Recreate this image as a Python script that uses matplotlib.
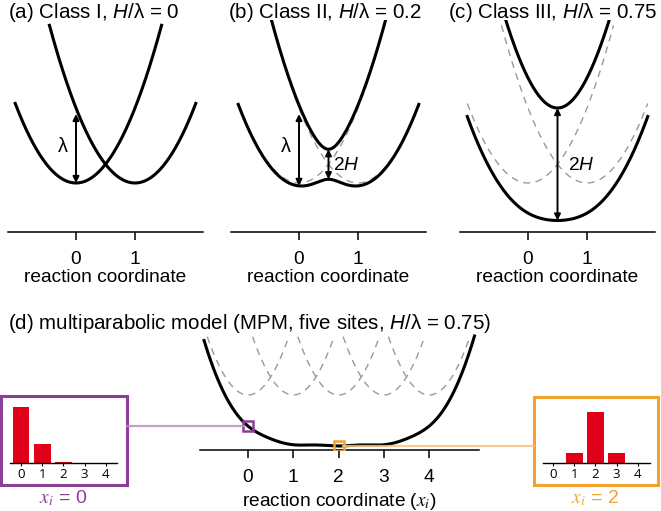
import numpy as np
import matplotlib
matplotlib.use("Agg")
import matplotlib.pyplot as plt
from matplotlib.lines import Line2D

plt.rcParams['font.family'] = ['Liberation Sans', 'DejaVu Sans']
plt.rcParams['mathtext.fontset'] = 'custom'
plt.rcParams['mathtext.rm'] = 'Liberation Sans'
plt.rcParams['mathtext.it'] = 'Liberation Sans:italic'

# ---------------- data ----------------
panel_titles = ["(a) Class I, $H$/λ = 0", "(b) Class II, $H$/λ = 0.2",
                "(c) Class III, $H$/λ = 0.75"]
h_over_lambda = [0.0, 0.2, 0.75]          # coupling per panel (λ = 1)
two_site_ticks = [0, 1]
mpm_title = "(d) multiparabolic model (MPM, five sites, $H$/λ = 0.75)"
mpm_h = 0.75
mpm_sites = [0, 1, 2, 3, 4]
bar_sites = [0, 1, 2, 3, 4]
bars_x0 = [0.74, 0.25, 0.015, 0.0, 0.0]   # state weights at x_i = 0
bars_x2 = [0.0, 0.13, 0.67, 0.13, 0.0]    # state weights at x_i = 2
marked_x = [0, 2]

W, H_PX = 661, 511
fig = plt.figure(figsize=(W / 100, H_PX / 100), dpi=100)


def rect(l, t, r, b):
    return [l / W, 1 - b / H_PX, (r - l) / W, (b - t) / H_PX]


PURPLE = '#8C3F96'
PURPLE_L = '#B98DC0'
ORANGE = '#F2A230'
ORANGE_L = '#F5C47E'
RED = '#E1001A'
GRAY = '#9A9A9A'
FS = 13.8
TFS = 14.8


def style_axis(ax, pad):
    for s in ['left', 'right', 'top']:
        ax.spines[s].set_visible(False)
    ax.spines['bottom'].set_linewidth(1.1)
    ax.set_yticks([])
    ax.tick_params(axis='x', direction='out', length=6, width=1.1,
                   labelsize=FS, pad=pad)


def darrow(ax, x, y0, y1):
    ax.annotate('', xy=(x, y1), xytext=(x, y0),
                arrowprops=dict(arrowstyle='<|-|>', color='black', lw=1.4,
                                mutation_scale=9, shrinkA=0, shrinkB=0))


# --------------- panels a-c ---------------
zeros = [76, 299, 528]
title_x = [8, 228, 448]
unit = 59.0
for k in range(3):
    h = h_over_lambda[k]
    x0 = zeros[k]
    ax = fig.add_axes(rect(x0 - 1.15 * unit, 20, x0 + 2.15 * unit, 232))
    ax.set_xlim(-1.15, 2.15)
    ax.set_ylim(-(232 - 183) / 75, (183 - 20) / 75)
    style_axis(ax, 8)
    ax.set_xticks(two_site_ticks)
    ax.set_xlabel("reaction coordinate", fontsize=FS, labelpad=0.5)
    fig.text(title_x[k] / W, 1 - 13 / H_PX, panel_titles[k], fontsize=TFS,
             ha='left', va='center')

    xa = np.linspace(-1.03, 1.45, 300)
    xb = np.linspace(-0.45, 2.03, 300)
    if h > 0:
        ax.plot(xa, xa ** 2, color=GRAY, lw=1.0, ls=(0, (5, 4)), zorder=1)
        ax.plot(xb, (xb - 1) ** 2, color=GRAY, lw=1.0, ls=(0, (5, 4)), zorder=1)
        xl = np.linspace(-1.03, 2.03, 500)
        ea, eb = xl ** 2, (xl - 1) ** 2
        lower = (ea + eb) / 2 - np.sqrt(((ea - eb) / 2) ** 2 + h ** 2)
        ax.plot(xl, lower, color='black', lw=2.2, zorder=3)
        xu = np.linspace(-0.47, 1.47, 400)
        ea, eb = xu ** 2, (xu - 1) ** 2
        upper = (ea + eb) / 2 + np.sqrt(((ea - eb) / 2) ** 2 + h ** 2)
        ax.plot(xu, upper, color='black', lw=2.2, zorder=3)
    else:
        ax.plot(xa, xa ** 2, color='black', lw=2.2, zorder=3)
        ax.plot(xb, (xb - 1) ** 2, color='black', lw=2.2, zorder=3)

    if k < 2:
        e0 = 0.5 - np.sqrt(0.25 + h ** 2)
        darrow(ax, 0, e0, 0.92)
        ax.text(-0.22, 0.48, "λ", fontsize=FS + 0.5, ha='center', va='center')
    if k >= 1:
        darrow(ax, 0.5, 0.25 - h, 0.25 + h)
        ax.text(0.58 if k == 1 else 0.68, 0.24, "2$H$", fontsize=FS,
                ha='left', va='center')

# --------------- panel d ---------------
du = 45.3
d0 = 248
axd = fig.add_axes(rect(d0 - 1.06 * du, 330, d0 + 5.10 * du, 450))
axd.set_xlim(-1.06, 5.10)
axd.set_ylim(-(450 - 395) / 72, (395 - 330) / 72)
style_axis(axd, 7.5)
axd.set_xticks(mpm_sites)
axd.set_xlabel(r"reaction coordinate ($\mathit{x}_\mathit{i}$)", fontsize=FS,
               labelpad=3.5)
axd.xaxis.label.set_math_fontfamily('stix')
fig.text(8 / W, 1 - 323 / H_PX, mpm_title, fontsize=TFS, ha='left',
         va='center')

for s in mpm_sites:
    xs = np.linspace(s - 0.9, s + 0.9, 200)
    axd.plot(xs, (xs - s) ** 2, color=GRAY, lw=1.0, ls=(0, (5, 4)), zorder=1)


def ground(x):
    n = len(mpm_sites)
    M = np.diag([(x - s) ** 2 for s in mpm_sites]).astype(float)
    for i in range(n - 1):
        M[i, i + 1] = M[i + 1, i] = -mpm_h
    return np.linalg.eigvalsh(M)[0]


xg = np.linspace(-0.97, 5.0, 600)
eg = np.array([ground(v) for v in xg])
axd.plot(xg, eg, color='black', lw=2.2, zorder=3)

cols = [PURPLE, ORANGE]
lcols = [PURPLE_L, ORANGE_L]
sq_pts = []
for i, xm in enumerate(marked_x):
    em = ground(xm)
    axd.plot([xm], [em], marker='s', ms=6.5, mfc='none', mec=cols[i], mew=1.8,
             zorder=6)
    sq_pts.append((xm, em))

fig.canvas.draw()
inv = fig.transFigure.inverted()

# connecting lines
for i, (xm, em) in enumerate(sq_pts):
    fx, fy = inv.transform(axd.transData.transform((xm, em)))
    if i == 0:
        xs = [127 / W, fx - 4.5 / W]
    else:
        xs = [fx + 4.5 / W, 534 / W]
    fig.add_artist(Line2D(xs, [fy, fy], color=lcols[i], lw=1.6, alpha=0.85,
                          transform=fig.transFigure, zorder=5))

# --------------- insets ---------------
boxes = [(1, 396, 127, 485), (534, 397, 658, 485)]
bar_axes = [(10, 403, 117, 463), (543, 403, 650, 463)]
bar_zero = [21, 553]
bar_vals = [bars_x0, bars_x2]
labels = [r"$\mathit{x}_\mathit{i}$ = 0", r"$\mathit{x}_\mathit{i}$ = 2"]
label_x = [63, 595]
for i in range(2):
    bx = fig.add_axes(rect(*boxes[i]))
    bx.set_xticks([]); bx.set_yticks([])
    bx.patch.set_alpha(0)
    for s in bx.spines.values():
        s.set_color(cols[i]); s.set_linewidth(2.2)
    l, t, r, b = bar_axes[i]
    ub = 21.2
    ax = fig.add_axes(rect(l, t, r, b))
    ax.set_xlim((l - bar_zero[i]) / ub, (r - bar_zero[i]) / ub)
    ax.set_ylim(0, (b - t) / 76)
    ax.bar(bar_sites, bar_vals[i], width=0.8, color=RED)
    for s in ['left', 'right', 'top']:
        ax.spines[s].set_visible(False)
    ax.spines['bottom'].set_linewidth(1.0)
    ax.set_yticks([])
    ax.set_xticks(bar_sites)
    ax.tick_params(axis='x', length=2.5, width=0.8, labelsize=9.5, pad=1)
    for lab in ax.get_xticklabels():
        lab.set_fontfamily(['Open Sans', 'DejaVu Sans'])
    ax.patch.set_alpha(0)
    fig.text(label_x[i] / W, 1 - 498 / H_PX, labels[i], color=cols[i],
             fontsize=14, ha='center', va='center', math_fontfamily='stix')

fig.savefig("out.png", dpi=100)
